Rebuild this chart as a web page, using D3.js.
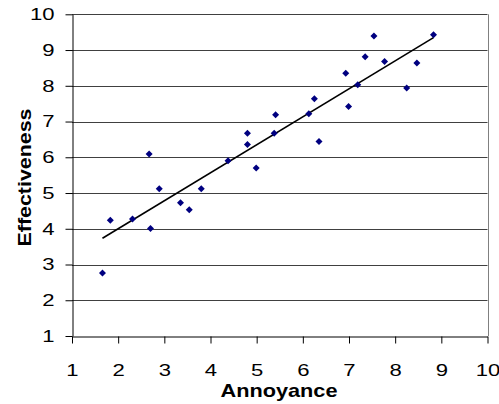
<!DOCTYPE html>
<html>
<head>
<meta charset="utf-8">
<script src="https://cdn.jsdelivr.net/npm/d3@7"></script>
<style>
html,body{margin:0;padding:0;background:#fff;}
svg{display:block;font-family:"Liberation Sans",Arial,sans-serif;}
</style>
</head>
<body>
<svg id="chart" width="499" height="404"></svg>
<script>
const annoyance = [1.66,1.83,2.31,2.67,2.70,2.89,3.35,3.54,3.80,4.38,4.80,4.80,4.99,5.41,5.38,6.13,6.25,6.35,6.93,6.99,7.19,7.35,7.54,7.77,8.25,8.47,8.83];
const effectiveness = [2.76,4.24,4.27,6.09,4.01,5.12,4.73,4.53,5.12,5.90,6.67,6.36,5.70,7.19,6.67,7.22,7.64,6.44,8.35,7.42,8.03,8.81,9.39,8.68,7.94,8.64,9.43];
const xTicks = [1,2,3,4,5,6,7,8,9,10];
const yTicks = [1,2,3,4,5,6,7,8,9,10];

const svg = d3.select("#chart");
const x = d3.scaleLinear().domain([1,10]).range([72,487.5]);
const y = d3.scaleLinear().domain([1,10]).range([336,14.3]);
const stretch = 1.3;
const fontFam = "Liberation Sans, Arial, sans-serif";

// gridlines
svg.append("g").selectAll("line").data(yTicks.filter(d=>d>1)).join("line")
  .attr("x1",x(1)).attr("x2",x(10))
  .attr("y1",d=>Math.round(y(d))+0.5).attr("y2",d=>Math.round(y(d))+0.5)
  .attr("stroke","#404040").attr("stroke-width",1);
// right border
svg.append("line").attr("x1",Math.round(x(10))+0.5).attr("x2",Math.round(x(10))+0.5)
  .attr("y1",y(10)).attr("y2",y(1)).attr("stroke","#808080");

// axes
const xAxis = d3.axisBottom(x).tickValues(xTicks).tickSize(7).tickPadding(20).tickSizeOuter(0);
const gx = svg.append("g").attr("transform",`translate(0,${Math.round(y(1))+0.5})`).call(xAxis);
gx.select(".domain").attr("stroke","#000");
gx.selectAll(".tick line").attr("stroke","#000");
gx.selectAll("text").attr("font-size",17).attr("fill","#000").attr("font-family",fontFam)
  .attr("transform",`scale(${stretch},1)`);

const yAxis = d3.axisLeft(y).tickValues(yTicks).tickSize(7).tickPadding(11).tickSizeOuter(0);
const gy = svg.append("g").attr("transform",`translate(${Math.round(x(1))+0.5},0)`).call(yAxis);
gy.select(".domain").attr("stroke","#000");
gy.selectAll(".tick line").attr("stroke","#000");
gy.selectAll("text").attr("font-size",17).attr("fill","#000").attr("font-family",fontFam)
  .attr("x",-18/stretch).attr("transform",`scale(${stretch},1)`);

// trendline (least squares)
const n = annoyance.length;
const mx = d3.mean(annoyance), my = d3.mean(effectiveness);
let sxy=0, sxx=0;
for(let i=0;i<n;i++){sxy+=(annoyance[i]-mx)*(effectiveness[i]-my); sxx+=(annoyance[i]-mx)**2;}
const slope = sxy/sxx, icpt = my - slope*mx;
const x0 = d3.min(annoyance), x1 = d3.max(annoyance);
svg.append("line")
  .attr("x1",x(x0)).attr("y1",y(icpt+slope*x0))
  .attr("x2",x(x1)).attr("y2",y(icpt+slope*x1))
  .attr("stroke","#000").attr("stroke-width",1.6);

// points
const r = 3.5;
svg.append("g").selectAll("path").data(annoyance.map((a,i)=>[a,effectiveness[i]])).join("path")
  .attr("d",`M0,${-r}L${r},0L0,${r}L${-r},0Z`)
  .attr("transform",d=>`translate(${x(d[0])},${y(d[1])})`)
  .attr("fill","#000080");

// titles
svg.append("text").attr("x",279).attr("y",397).attr("text-anchor","middle")
  .attr("font-size",19).attr("font-weight","bold")
  .attr("textLength",117).attr("lengthAdjust","spacingAndGlyphs").text("Annoyance");
svg.append("text").attr("transform",`translate(31,177.5) rotate(-90)`)
  .attr("text-anchor","middle").attr("font-size",19).attr("font-weight","bold")
  .attr("textLength",138).attr("lengthAdjust","spacingAndGlyphs").text("Effectiveness");
</script>
</body>
</html>
